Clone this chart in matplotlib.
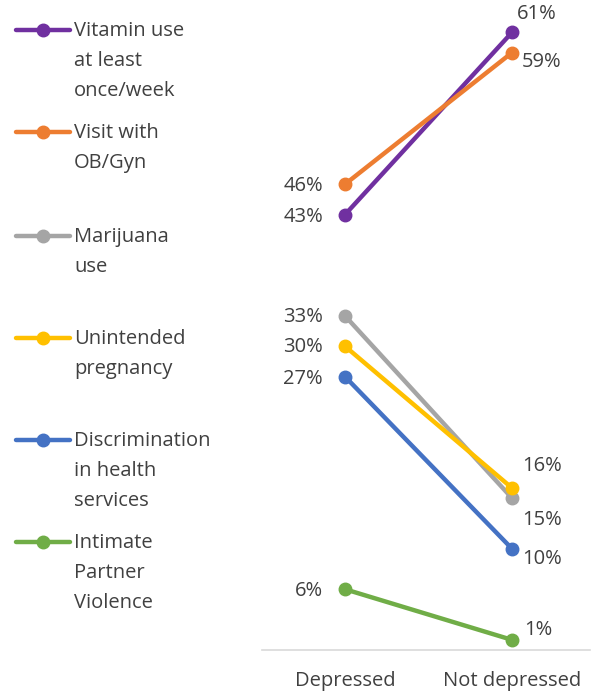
import matplotlib
matplotlib.use("Agg")
import matplotlib.pyplot as plt
from matplotlib.lines import Line2D

plt.rcParams['font.family'] = ['Open Sans', 'DejaVu Sans']

categories = ["Depressed", "Not depressed"]
series_names = ["Vitamin use\nat least\nonce/week", "Visit with\nOB/Gyn", "Marijuana\nuse",
                "Unintended\npregnancy", "Discrimination\nin health\nservices", "Intimate\nPartner\nViolence"]
depressed = [43, 46, 33, 30, 27, 6]
not_depressed = [61, 59, 15, 16, 10, 1]
colors = ["#7030A0", "#ED7D31", "#A5A5A5", "#FFC000", "#4472C4", "#70AD47"]

# label offsets in pixels, image coordinates (x right, y down)
left_off = [(-22, 2), (-22, 2), (-22, 1), (-22, 1), (-22, 2), (-22, 2)]
right_off = [(5, -18), (10, 9), (10, 22), (10, -22), (10, 10), (12, -10)]

W, H = 592, 695
fig = plt.figure(figsize=(W / 100, H / 100), dpi=100)
ax = fig.add_axes([262 / W, 1 - 650 / H, 328 / W, 648 / H])
ax.set_xlim(-0.497, 1.467)
ax.set_ylim(0, 64)

FS = 14.5
TC = '#404040'
for i in range(len(depressed)):
    ax.plot([0, 1], [depressed[i], not_depressed[i]], color=colors[i], lw=3.2,
            marker='o', markersize=9, solid_capstyle='round', zorder=3)
    lx, ly = left_off[i]
    ax.annotate(f"{depressed[i]}%", (0, depressed[i]), xytext=(lx, -ly),
                textcoords='offset pixels', ha='right', va='center', fontsize=FS, color=TC)
    dx, dy = right_off[i]
    ax.annotate(f"{not_depressed[i]}%", (1, not_depressed[i]), xytext=(dx, -dy),
                textcoords='offset pixels', ha='left', va='center', fontsize=FS, color=TC)

for s in ['top', 'right', 'left']:
    ax.spines[s].set_visible(False)
ax.spines['bottom'].set_color('#D9D9D9')
ax.spines['bottom'].set_linewidth(1.2)
ax.set_yticks([])
ax.set_xticks([0, 1])
ax.set_xticklabels(categories, fontsize=FS, color=TC)
ax.tick_params(axis='x', length=0, pad=15)

# manual legend
leg_y = [30, 132, 236, 338, 440, 542]
for i, name in enumerate(series_names):
    y = 1 - leg_y[i] / H
    fig.add_artist(Line2D([16 / W, 70 / W], [y, y], color=colors[i], lw=3.2,
                          solid_capstyle='round', transform=fig.transFigure))
    fig.add_artist(Line2D([43 / W], [y], color=colors[i], marker='o', markersize=9,
                          transform=fig.transFigure))
    fig.text(74 / W, 1 - (leg_y[i] - 9) / H, name, ha='left', va='top',
             fontsize=FS, color=TC, linespacing=1.68)

fig.savefig("out.png", dpi=100)
